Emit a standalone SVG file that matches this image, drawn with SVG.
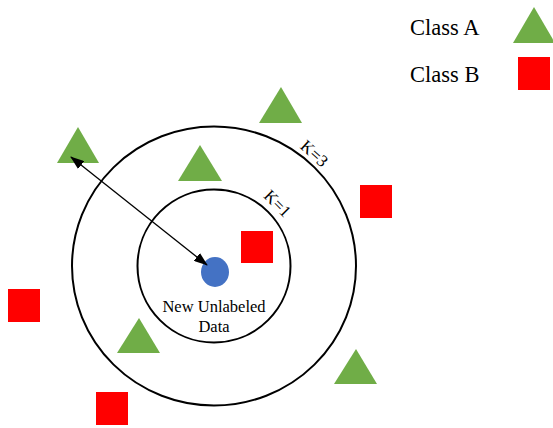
<svg xmlns="http://www.w3.org/2000/svg" width="553" height="428" viewBox="0 0 553 428">
<defs>
<style>
.ring{fill:none;stroke:#000;stroke-width:2}
.tri{fill:#70AD47}
.sq{fill:#FF0000}
.t{font-family:"Liberation Serif","Times New Roman",serif;fill:#000}
.leg{font-size:22.5px}
.lbl{font-size:16.5px}
.k{font-size:17px}
</style>
<marker id="ah" viewBox="0 0 14 10" refX="13" refY="5" markerWidth="14" markerHeight="10" markerUnits="userSpaceOnUse" orient="auto-start-reverse">
<path d="M0,0 L14,5 L0,10 z" fill="#000"/>
</marker>
</defs>
<rect width="553" height="428" fill="#fff"/>
<g id="outer-ring"><ellipse class="ring" cx="214" cy="266" rx="142" ry="139.5"/></g>
<g id="inner-ring"><circle class="ring" cx="214" cy="266" r="76.5"/></g>
<g id="k3-label"><text class="t k" text-anchor="middle" transform="translate(314,154) rotate(42)" x="0" y="5">K=3</text></g>
<g id="k1-label"><text class="t k" text-anchor="middle" transform="translate(277,204) rotate(45)" x="0" y="5">K=1</text></g>
<g id="tri-1"><polygon class="tri" points="78,127 57,163 99,163"/></g>
<g id="tri-2"><polygon class="tri" points="200,145 178,181 222,181"/></g>
<g id="tri-3"><polygon class="tri" points="281,87 259,123 302,123"/></g>
<g id="tri-4"><polygon class="tri" points="139,318 117,353 160,353"/></g>
<g id="tri-5"><polygon class="tri" points="356,349 334,384 377,384"/></g>
<g id="sq-1"><rect class="sq" x="360" y="185" width="32" height="33"/></g>
<g id="sq-2"><rect class="sq" x="241" y="231" width="32" height="32"/></g>
<g id="sq-3"><rect class="sq" x="8" y="289" width="32" height="33"/></g>
<g id="sq-4"><rect class="sq" x="96" y="392" width="32" height="33"/></g>
<g id="new-data">
<ellipse cx="215" cy="272" rx="14" ry="15" fill="#4472C4"/>
<text class="t lbl" text-anchor="middle" x="214" y="311.5">New Unlabeled</text>
<text class="t lbl" text-anchor="middle" x="214" y="331.5">Data</text>
</g>
<g id="connectors">
<line x1="71" y1="157" x2="207" y2="265" stroke="#000" stroke-width="1.3" marker-start="url(#ah)" marker-end="url(#ah)"/>
</g>
<g id="legend">
<text class="t leg" x="410" y="35">Class A</text>
<polygon class="tri" points="534,7 513,43 555,43"/>
<text class="t leg" x="410" y="81.5">Class B</text>
<rect class="sq" x="518" y="57" width="32" height="33"/>
</g>
</svg>
